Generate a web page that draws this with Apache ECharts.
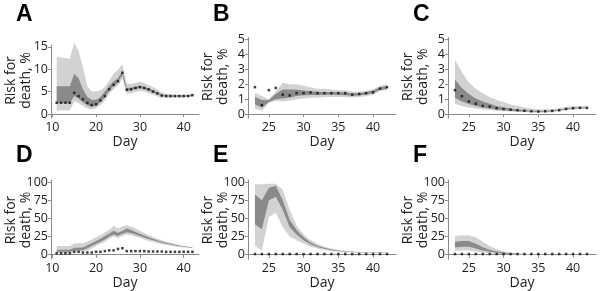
<!DOCTYPE html>
<html>
<head>
<meta charset="utf-8">
<script src="https://cdn.jsdelivr.net/npm/echarts@6/dist/echarts.min.js"></script>
<style>
  html, body { margin: 0; padding: 0; background: #fff; }
  #chart { width: 600px; height: 291px; }
</style>
</head>
<body>
<div id="chart"></div>
<script>
// days
var daysEarly = [11,12,13,14,15,16,17,18,19,20,21,22,23,24,25,26,27,28,29,30,31,32,33,34,35,36,37,38,39,40,41,42];
var daysLate = [23,24,25,26,27,28,29,30,31,32,33,34,35,36,37,38,39,40,41,42];

// A
var aLightUp = [12.7,12.6,12.5,12.3,16.0,14.0,10.5,6.2,5.0,5.0,5.3,6.0,7.5,9.0,9.8,11.2,6.8,6.7,6.9,7.2,6.9,6.4,6.0,5.4,4.8,4.5,4.4,4.3,4.3,4.3,4.3,4.5];
var aLightLo = [0.8,0.8,0.8,0.8,2.8,2.4,1.8,1.2,1.0,1.2,2.0,3.0,4.5,5.5,6.3,7.8,4.5,4.6,4.9,5.2,5.0,4.6,4.3,3.9,3.6,3.6,3.6,3.7,3.7,3.7,3.8,3.9];
var aDarkUp = [6.2,6.2,6.2,6.2,9.0,8.0,5.5,3.8,3.1,3.2,3.8,5.0,6.3,7.3,8.0,9.6,5.8,5.9,6.1,6.3,6.1,5.7,5.3,4.8,4.3,4.1,4.1,4.1,4.1,4.1,4.1,4.3];
var aDarkLo = [2.4,2.4,2.4,2.4,4.0,3.4,2.6,1.9,1.6,1.8,2.7,3.7,5.2,6.2,7.0,8.7,5.1,5.3,5.6,5.8,5.6,5.2,4.8,4.4,4.0,3.9,3.9,3.9,3.9,3.9,3.9,4.0];
var aObs = [2.5,2.5,2.5,2.5,4.7,4.0,3.3,2.5,2.0,2.2,3.0,4.0,5.5,6.5,7.3,9.2,5.4,5.5,5.8,6.0,5.8,5.5,5.0,4.6,4.1,4.0,4.0,4.0,4.0,4.0,4.0,4.2];

// B
var bLightUp = [1.45,1.2,1.0,1.5,2.1,2.0,2.0,1.9,1.8,1.7,1.7,1.65,1.6,1.6,1.5,1.5,1.55,1.65,1.9,2.0];
var bLightLo = [0.35,0.25,0.75,0.9,0.85,0.9,1.0,1.05,1.1,1.1,1.15,1.15,1.15,1.15,1.1,1.15,1.2,1.3,1.55,1.6];
var bDarkUp = [1.15,0.95,0.95,1.35,1.65,1.65,1.62,1.57,1.52,1.5,1.47,1.47,1.46,1.44,1.4,1.4,1.47,1.57,1.8,1.87];
var bDarkLo = [0.65,0.45,0.82,1.0,1.05,1.12,1.22,1.27,1.28,1.28,1.29,1.29,1.29,1.27,1.23,1.25,1.31,1.4,1.63,1.68];
var bObs = [1.8,0.6,1.6,1.75,1.3,1.25,1.4,1.4,1.45,1.4,1.4,1.4,1.4,1.4,1.3,1.35,1.4,1.45,1.7,1.8];

// C
var cLightUp = [3.6,2.8,2.1,1.7,1.4,1.15,0.95,0.8,0.65,0.55,0.45,0.38,0.33,0.33,0.35,0.4,0.5,0.55,0.55,0.55];
var cLightLo = [0.7,0.55,0.45,0.38,0.32,0.28,0.24,0.2,0.18,0.15,0.13,0.12,0.1,0.12,0.15,0.2,0.28,0.32,0.35,0.35];
var cDarkUp = [2.3,1.75,1.35,1.05,0.85,0.7,0.55,0.45,0.38,0.32,0.28,0.24,0.22,0.22,0.25,0.3,0.38,0.43,0.45,0.45];
var cDarkLo = [1.1,0.85,0.68,0.55,0.45,0.38,0.32,0.27,0.23,0.2,0.18,0.16,0.15,0.16,0.19,0.25,0.32,0.37,0.39,0.4];
var cObs = [1.6,1.2,0.85,0.7,0.55,0.5,0.4,0.35,0.3,0.27,0.23,0.2,0.18,0.2,0.22,0.27,0.35,0.4,0.42,0.42];

// D
var dLightUp = [12,12,12,12,16,16,16,18,21,24,27,31,34,40,36,39,41,39,36,33,30,27,24.5,22,20,18,16.5,15,13.5,12.5,11.5,10.5];
var dLightLo = [2,2,2,2,4,4,4,6,9,12,15,18,22,25,23,26,28,27,25,23,21,19,17.5,16,14.5,13.5,12.5,11.5,10.5,10,9.5,9];
var dDarkUp = [7,7,7,7,9.5,9.5,10,13,16,19,22,26,29,33,30,33,36,34,31.5,29,26.5,24,22,20,18,16.5,15,13.8,12.7,11.8,11,10.2];
var dDarkLo = [4,4,4,4,6,6,6.5,9,12,15,18,21,25,28,26,29,31,30,28,26,23.8,21.8,20,18.3,16.7,15.3,14,13,12,11.2,10.5,9.8];
var dObs = [2,2,2,2,4,4,3,3,3,4,4,5,6,6,8,9,5,5,5,5,5,4.5,4.5,4.5,4.5,4,4,4,4,4,4,4];

// E
var eLightUp = [97,97,98,98,90,62,40,28,20,15,11,8.5,6.5,5,4.5,4,3.5,3.5,3.5,3.5];
var eLightLo = [12,6,52,58,38,25,20,15,11,8.5,6.5,5,4,3.5,3,3,2.8,2.8,2.8,2.8];
var eDarkUp = [83,75,92,95,75,48,34,24,17,12.5,9.5,7.2,5.7,4.8,4.2,3.8,3.5,3.3,3.3,3.3];
var eDarkLo = [42,35,75,80,62,38,28,20,14.5,10.8,8.2,6.3,5,4.2,3.7,3.4,3.1,3,3,3];
var eObs = [1,1,1,1,1,1,1,1,1,1,1,1,1,1,1,1,1,1,1,1];

// F
var fLightUp = [26,27,27,24,18,12,7.5,4.5,2.8,1.8,1.2,0.9,0.8,0.8,0.8,0.8,0.8,0.8,0.8,0.8];
var fLightLo = [5,6,6,4.5,3,2,1.3,0.9,0.6,0.5,0.4,0.3,0.3,0.3,0.3,0.3,0.3,0.3,0.3,0.3];
var fDarkUp = [18,19,19,15,10.5,7,4.6,3,2,1.4,1,0.8,0.7,0.7,0.7,0.7,0.7,0.7,0.7,0.7];
var fDarkLo = [10,11,11,8.5,6,4,2.6,1.7,1.2,0.9,0.7,0.6,0.5,0.5,0.5,0.5,0.5,0.5,0.5,0.5];
var fObs = [1,1,1,1,1,1,1,1,1,1,1,1,1,1,1,1,1,1,1,1];

// tick labels
var xTicksEarly = [10, 20, 30, 40];
var xTicksLate = [25, 30, 35, 40];
var yTicksSmall = [0, 1, 2, 3, 4, 5];
var yTicksA = [0, 5, 10, 15];
var yTicksPct = [0, 25, 50, 75, 100];

var panels = [
  { letter: 'A', days: daysEarly, lu: aLightUp, ll: aLightLo, du: aDarkUp, dl: aDarkLo, obs: aObs,
    left: 51, top: 45, height: 73, xMin: 9.7, xMax: 43.5, yMin: -0.9, yMax: 15.4, xTicks: xTicksEarly, yTicks: yTicksA },
  { letter: 'B', days: daysLate, lu: bLightUp, ll: bLightLo, du: bDarkUp, dl: bDarkLo, obs: bObs,
    left: 248, top: 37.5, height: 80.5, xMin: 22, xMax: 43.3, yMin: -0.25, yMax: 5.1, xTicks: xTicksLate, yTicks: yTicksSmall },
  { letter: 'C', days: daysLate, lu: cLightUp, ll: cLightLo, du: cDarkUp, dl: cDarkLo, obs: cObs,
    left: 448, top: 37.5, height: 80.5, xMin: 22, xMax: 43.3, yMin: -0.25, yMax: 5.1, xTicks: xTicksLate, yTicks: yTicksSmall },
  { letter: 'D', days: daysEarly, lu: dLightUp, ll: dLightLo, du: dDarkUp, dl: dDarkLo, obs: dObs,
    left: 51, top: 180, height: 82, xMin: 9.7, xMax: 43.5, yMin: -6, yMax: 103, xTicks: xTicksEarly, yTicks: yTicksPct },
  { letter: 'E', days: daysLate, lu: eLightUp, ll: eLightLo, du: eDarkUp, dl: eDarkLo, obs: eObs,
    left: 248, top: 180, height: 82, xMin: 22, xMax: 43.3, yMin: -6, yMax: 103, xTicks: xTicksLate, yTicks: yTicksPct },
  { letter: 'F', days: daysLate, lu: fLightUp, ll: fLightLo, du: fDarkUp, dl: fDarkLo, obs: fObs,
    left: 448, top: 180, height: 82, xMin: 22, xMax: 43.3, yMin: -6, yMax: 103, xTicks: xTicksLate, yTicks: yTicksPct }
];

var font = 'Open Sans';
var axisGray = '#8a8a8a';
var textColor = '#222';

function pairs(days, vals) {
  return days.map(function (d, i) { return [d, vals[i]]; });
}

// band between lo and up, drawn as one polygon through the axis scales
function bandSeries(i, days, up, lo, color) {
  return {
    type: 'custom', xAxisIndex: i, yAxisIndex: i, silent: true, clip: false,
    data: days.map(function (d, k) { return [d, lo[k], up[k]]; }),
    encode: { x: 0, y: [1, 2] },
    renderItem: function (params, api) {
      if (params.dataIndex !== 0) return;
      var pts = [];
      for (var k = 0; k < days.length; k++) pts.push(api.coord([days[k], up[k]]));
      for (var k2 = days.length - 1; k2 >= 0; k2--) pts.push(api.coord([days[k2], lo[k2]]));
      return { type: 'polygon', shape: { points: pts }, style: { fill: color } };
    }
  };
}

var grids = [], xAxes = [], yAxes = [], series = [], titles = [], graphics = [];

panels.forEach(function (p, i) {
  grids.push({ left: p.left, top: p.top, width: 148, height: p.height });
  xAxes.push({
    gridIndex: i, type: 'value', min: p.xMin, max: p.xMax,
    name: 'Day', nameLocation: 'middle', nameGap: 10,
    nameTextStyle: { fontFamily: font, fontSize: 14, color: textColor },
    axisLine: { lineStyle: { color: axisGray } },
    axisTick: { length: 3, customValues: p.xTicks, lineStyle: { color: axisGray } },
    axisLabel: { customValues: p.xTicks, margin: 3, fontFamily: font, fontSize: 12.5, color: textColor },
    splitLine: { show: false }
  });
  yAxes.push({
    gridIndex: i, type: 'value', min: p.yMin, max: p.yMax,
    axisLine: { show: true, lineStyle: { color: axisGray } },
    axisTick: { show: true, length: 3, customValues: p.yTicks, lineStyle: { color: axisGray } },
    axisLabel: { customValues: p.yTicks, margin: 3, fontFamily: font, fontSize: 12.5, color: textColor },
    splitLine: { show: false }
  });
  titles.push({
    text: p.letter, left: p.left - 35, top: i < 3 ? 3 : 144, padding: 0,
    textStyle: { fontFamily: 'Liberation Sans', fontSize: 23, fontWeight: 'bold', color: '#000' }
  });
  // y-axis title
  graphics.push({
    type: 'text', x: p.left - 32, y: p.top + p.height / 2 - 1, rotation: Math.PI / 2, silent: true,
    style: {
      text: 'Risk for\ndeath, %', fontFamily: font, fontSize: 14, lineHeight: 15,
      fill: textColor, align: 'center', verticalAlign: 'middle'
    }
  });

  series.push(bandSeries(i, p.days, p.lu, p.ll, '#d2d2d2'));
  series.push(bandSeries(i, p.days, p.du, p.dl, '#8a8a8a'));
  series.push({
    xAxisIndex: i, yAxisIndex: i, type: 'scatter', silent: true,
    symbol: 'rect', symbolSize: 2.5, itemStyle: { color: '#111' },
    data: pairs(p.days, p.obs), z: 5
  });
});

var myChart = echarts.init(document.getElementById('chart'));
myChart.setOption({
  animation: false,
  title: titles,
  grid: grids,
  xAxis: xAxes,
  yAxis: yAxes,
  graphic: graphics,
  series: series
});
window.addEventListener('resize', function () {
  myChart.resize();
});
</script>
</body>
</html>
